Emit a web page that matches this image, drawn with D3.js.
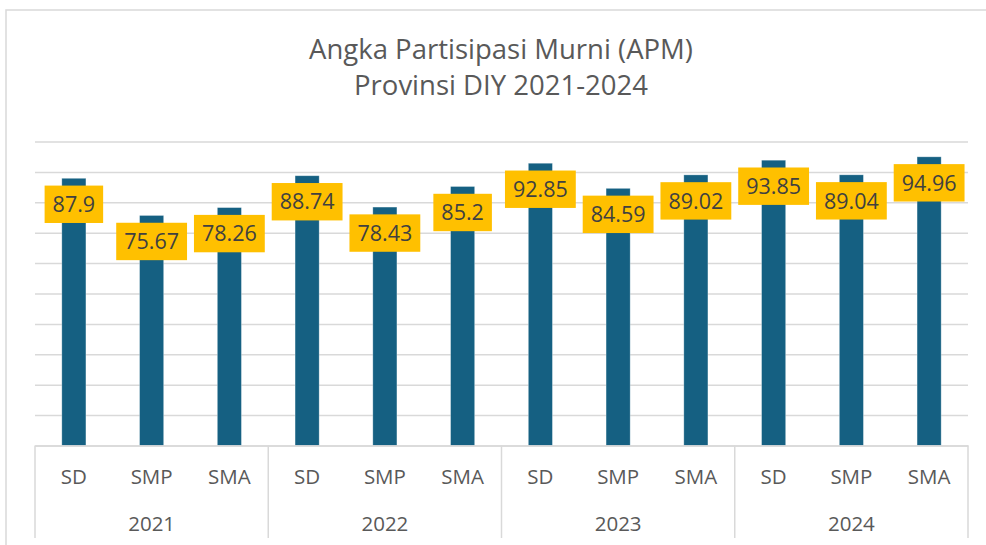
<!DOCTYPE html>
<html>
<head>
<meta charset="utf-8">
<script src="https://cdn.jsdelivr.net/npm/d3@7"></script>
<style>
  body { margin: 0; background: #fff; }
  svg { display: block; font-family: "Open Sans", sans-serif; }
</style>
</head>
<body>
<div id="chart"></div>
<script>
var years = ["2021", "2022", "2023", "2024"];
var levels = ["SD", "SMP", "SMA"];
var apm2021 = [87.9, 75.67, 78.26];
var apm2022 = [88.74, 78.43, 85.2];
var apm2023 = [92.85, 84.59, 89.02];
var apm2024 = [93.85, 89.04, 94.96];
var titleLines = ["Angka Partisipasi Murni (APM)", "Provinsi DIY 2021-2024"];

var series = [apm2021, apm2022, apm2023, apm2024];
var data = [];
years.forEach(function(yr, i) {
  levels.forEach(function(lv, j) {
    data.push({year: yr, level: lv, value: series[i][j]});
  });
});

var W = 986, H = 545;
var plotLeft = 35, plotRight = 968, plotBase = 445.5, plotTop = 141.5;

var svg = d3.select("#chart").append("svg")
    .attr("width", W)
    .attr("height", H);

// chart frame
svg.append("rect")
    .attr("x", 6).attr("y", 10)
    .attr("width", 1000).attr("height", 600)
    .attr("fill", "none")
    .attr("stroke", "#d9d9d9")
    .attr("stroke-width", 1.5);

// title
svg.append("text")
    .attr("text-anchor", "middle")
    .attr("fill", "#595959")
    .style("font-size", "27.5px")
    .selectAll("tspan")
    .data(titleLines)
  .enter().append("tspan")
    .attr("x", 501)
    .attr("y", function(d, i) { return 59 + i * 36; })
    .text(function(d) { return d; });

var x0 = d3.scaleBand().domain(years).range([plotLeft, plotRight]);
var x1 = d3.scaleBand().domain(levels)
    .range([0, x0.bandwidth()])
    .paddingInner(0.69)
    .paddingOuter(0.345);
var xFlat = d3.scaleBand()
    .domain(data.map(function(d) { return d.year + "|" + d.level; }))
    .range([plotLeft, plotRight]);
var y = d3.scaleLinear().domain([0, 100]).range([plotBase, plotTop]);

// gridlines
var grid = svg.append("g")
    .attr("transform", "translate(" + plotLeft + ",0)")
    .call(d3.axisLeft(y).ticks(10).tickSize(-(plotRight - plotLeft)).tickFormat(""));
grid.select(".domain").remove();
grid.selectAll("line")
    .attr("stroke", "#d9d9d9")
    .attr("stroke-width", 1.5);

// bars
svg.selectAll(".bar")
    .data(data)
  .enter().append("rect")
    .attr("class", "bar")
    .attr("x", function(d) { return x0(d.year) + x1(d.level); })
    .attr("width", x1.bandwidth())
    .attr("y", function(d) { return y(d.value); })
    .attr("height", function(d) { return plotBase - y(d.value); })
    .attr("fill", "#156082")
    .attr("stroke", "#ffffff")
    .attr("stroke-opacity", 0.4)
    .attr("stroke-width", 0.75);

// category axis
var catAxis = svg.append("g")
    .attr("transform", "translate(0," + plotBase + ")")
    .call(d3.axisBottom(xFlat).tickSize(0).tickPadding(0)
      .tickFormat(function(k) { return k.split("|")[1]; }));
catAxis.select(".domain").attr("stroke", "#d9d9d9").attr("stroke-width", 1.5);
catAxis.selectAll("text")
    .attr("dy", null)
    .attr("y", 38.5)
    .attr("fill", "#595959")
    .style("font-size", "20.5px")
    .style("font-family", "Open Sans");

var yearAxis = svg.append("g")
    .attr("transform", "translate(0," + plotBase + ")")
    .call(d3.axisBottom(x0).tickSize(0).tickPadding(0));
yearAxis.select(".domain").remove();
yearAxis.selectAll("text")
    .attr("dy", null)
    .attr("y", 85.5)
    .attr("fill", "#595959")
    .style("font-size", "20.5px")
    .style("font-family", "Open Sans");

// group dividers
var edges = years.map(function(yr) { return x0(yr); }).concat([plotRight]);
svg.selectAll(".divider")
    .data(edges)
  .enter().append("line")
    .attr("class", "divider")
    .attr("x1", function(d) { return d; })
    .attr("x2", function(d) { return d; })
    .attr("y1", plotBase)
    .attr("y2", 538)
    .attr("stroke", "#d9d9d9")
    .attr("stroke-width", 1.5);

// data labels
var labels = svg.selectAll(".label")
    .data(data)
  .enter().append("g")
    .attr("class", "label")
    .attr("transform", function(d) {
      var cx = x0(d.year) + x1(d.level) + x1.bandwidth() / 2;
      return "translate(" + cx + "," + (y(d.value) + 26) + ")";
    });

labels.append("rect").attr("fill", "#ffc000");
labels.append("text")
    .attr("text-anchor", "middle")
    .attr("dy", "0.36em")
    .attr("fill", "#404040")
    .style("font-size", "21.5px")
    .text(function(d) { return d.value; });

labels.each(function() {
  var g = d3.select(this);
  var w = g.select("text").node().getComputedTextLength() + 16;
  g.select("rect")
    .attr("x", -w / 2)
    .attr("y", -18.7)
    .attr("width", w)
    .attr("height", 37.4);
});
</script>
</body>
</html>
